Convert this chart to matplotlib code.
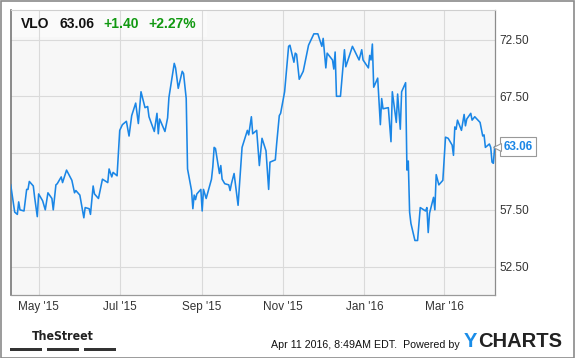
import matplotlib

matplotlib.use("Agg")
import matplotlib.pyplot as plt
import matplotlib.dates as mdates
import matplotlib.transforms as mtransforms
from matplotlib import font_manager
from matplotlib.patches import Rectangle
import pandas as pd

# VLO daily close (Apr 2015 - Apr 2016)
dates = [
    "2015-04-10", "2015-04-13", "2015-04-15", "2015-04-16", "2015-04-17", "2015-04-20",
    "2015-04-22", "2015-04-23", "2015-04-24", "2015-04-27", "2015-04-28", "2015-04-30",
    "2015-05-01", "2015-05-04", "2015-05-06", "2015-05-08", "2015-05-11", "2015-05-12",
    "2015-05-14", "2015-05-15", "2015-05-18", "2015-05-19", "2015-05-22", "2015-05-26",
    "2015-05-28", "2015-05-29", "2015-06-01", "2015-06-04", "2015-06-05", "2015-06-08",
    "2015-06-09", "2015-06-11", "2015-06-12", "2015-06-15", "2015-06-18", "2015-06-22",
    "2015-06-23", "2015-06-25", "2015-06-26", "2015-06-29", "2015-07-01", "2015-07-03",
    "2015-07-06", "2015-07-08", "2015-07-10", "2015-07-13", "2015-07-15", "2015-07-17",
    "2015-07-20", "2015-07-22", "2015-07-23", "2015-07-27", "2015-07-29", "2015-07-30",
    "2015-07-31", "2015-08-04", "2015-08-06", "2015-08-07", "2015-08-11", "2015-08-12",
    "2015-08-14", "2015-08-17", "2015-08-18", "2015-08-20", "2015-08-21", "2015-08-24",
    "2015-08-25", "2015-08-26", "2015-08-27", "2015-08-28", "2015-08-31", "2015-09-01",
    "2015-09-02", "2015-09-04", "2015-09-08", "2015-09-09", "2015-09-10", "2015-09-11",
    "2015-09-14", "2015-09-15", "2015-09-16", "2015-09-18", "2015-09-21", "2015-09-22",
    "2015-09-23", "2015-09-25", "2015-09-28", "2015-10-01", "2015-10-05", "2015-10-06",
    "2015-10-08", "2015-10-09", "2015-10-12", "2015-10-14", "2015-10-16", "2015-10-19",
    "2015-10-21", "2015-10-22", "2015-10-26", "2015-10-27", "2015-10-29", "2015-10-30",
    "2015-11-02", "2015-11-05", "2015-11-06", "2015-11-09", "2015-11-10", "2015-11-11",
    "2015-11-13", "2015-11-16", "2015-11-20", "2015-11-24", "2015-11-27", "2015-11-30",
    "2015-12-01", "2015-12-03", "2015-12-04", "2015-12-08", "2015-12-09", "2015-12-10",
    "2015-12-11", "2015-12-14", "2015-12-15", "2015-12-17", "2015-12-18", "2015-12-23",
    "2015-12-28", "2015-12-30", "2015-12-31", "2016-01-04", "2016-01-05", "2016-01-06",
    "2016-01-07", "2016-01-08", "2016-01-11", "2016-01-13", "2016-01-14", "2016-01-15",
    "2016-01-19", "2016-01-21", "2016-01-22", "2016-01-25", "2016-01-26", "2016-01-28",
    "2016-01-29", "2016-02-01", "2016-02-02", "2016-02-03", "2016-02-04", "2016-02-05",
    "2016-02-08", "2016-02-10", "2016-02-12", "2016-02-16", "2016-02-17", "2016-02-18",
    "2016-02-19", "2016-02-22", "2016-02-23", "2016-02-24", "2016-02-26", "2016-02-29",
    "2016-03-01", "2016-03-02", "2016-03-04", "2016-03-07", "2016-03-08", "2016-03-09",
    "2016-03-10", "2016-03-11", "2016-03-14", "2016-03-16", "2016-03-17", "2016-03-18",
    "2016-03-21", "2016-03-22", "2016-03-24", "2016-03-28", "2016-03-30", "2016-03-31",
    "2016-04-01", "2016-04-04", "2016-04-05", "2016-04-06", "2016-04-07", "2016-04-08",
]
prices = [
    59.7, 57.3, 57.1, 58.2, 57.5, 57.4,
    59.3, 59.3, 60.0, 59.6, 58.6, 56.9,
    58.9, 58.3, 57.5, 59.0, 58.5, 57.5,
    59.7, 59.8, 60.4, 59.9, 61.0, 60.1,
    59.0, 59.2, 58.8, 56.8, 57.7, 57.6,
    57.1, 59.6, 58.9, 58.5, 60.2, 59.9,
    61.1, 60.4, 60.8, 60.5, 64.5, 65.0,
    65.3, 64.0, 65.8, 66.9, 65.1, 67.9,
    66.5, 66.6, 65.7, 64.4, 66.0, 64.2,
    65.5, 64.4, 65.6, 67.4, 70.4, 70.0,
    68.2, 69.7, 69.5, 67.3, 61.1, 59.2,
    57.6, 58.8, 58.4, 58.9, 59.3, 57.4,
    59.3, 58.5, 60.2, 61.3, 63.0, 62.9,
    60.7, 61.4, 60.2, 59.8, 59.7, 59.2,
    59.8, 60.7, 57.9, 63.0, 64.5, 64.1,
    65.7, 64.2, 64.5, 61.4, 63.8, 62.7,
    59.3, 61.7, 61.9, 63.3, 65.8, 66.0,
    67.9, 71.9, 72.0, 70.5, 71.3, 71.2,
    69.0, 69.7, 72.0, 73.0, 73.0, 71.9,
    72.6, 70.0, 71.3, 70.7, 69.9, 71.4,
    67.5, 67.5, 68.9, 71.6, 70.1, 71.9,
    70.7, 71.6, 70.7, 70.0, 71.1, 70.7,
    72.1, 68.3, 69.1, 65.0, 67.3, 66.4,
    66.5, 63.5, 67.9, 65.2, 67.7, 64.6,
    67.9, 68.7, 61.0, 61.8, 57.3, 56.3,
    54.8, 54.8, 57.7, 57.4, 57.7, 55.5,
    57.2, 58.6, 57.5, 60.6, 59.7, 60.1,
    62.0, 63.9, 63.8, 63.2, 62.3, 64.8,
    64.6, 65.4, 64.5, 65.9, 64.9, 65.5,
    66.0, 65.4, 65.7, 65.2, 64.0, 64.1,
    63.0, 63.3, 63.0, 61.7, 61.6, 63.06,
]

ticker = "VLO"
last_price = "63.06"
change = "+1.40"
change_pct = "+2.27%"
y_ticks = [52.5, 57.5, 62.5, 67.5, 72.5]
# the 62.50 label sits under the last-price tag in the original
y_labels = ["52.50", "57.50", "", "67.50", "72.50"]
x_ticks = ["2015-05-01", "2015-07-01", "2015-09-01", "2015-11-01", "2016-01-01", "2016-03-01"]
stamp = "Apr 11 2016, 8:49AM EDT.  Powered by"

LINE = "#1a86e6"
GREEN = "#119911"
TXT = "#333333"

plt.rcParams["font.family"] = ["Liberation Sans", "DejaVu Sans"]

# a condensed bold face for the TheStreet logo text, if one is around
cond = [f for f in font_manager.fontManager.ttflist
        if f.stretch in ("condensed", "semi-condensed") and f.weight in ("bold", 700)]
logo_kw = dict(family=cond[0].name, fontstretch=cond[0].stretch, fontsize=8.8) if cond \
    else dict(family="Liberation Sans", fontsize=8)

W, H = 575, 358
fig = plt.figure(figsize=(W / 100, H / 100), dpi=100)
fig.patch.set_facecolor("white")


def fx(px):
    return px / W


def fy(py):
    return 1 - py / H


ax = fig.add_axes([fx(10.7), fy(295), fx(494.7) - fx(10.7), fy(10) - fy(295)])
ax.set_facecolor("#f7f7f7")

d = pd.to_datetime(dates)
ax.plot(d, prices, color=LINE, lw=1.15, zorder=3)

ax.set_xlim(pd.Timestamp("2015-04-10"), pd.Timestamp("2016-04-08"))
ax.set_ylim(50, 75.1)
ax.set_yticks(y_ticks)
ax.set_yticklabels(y_labels)
ax.set_xticks(pd.to_datetime(x_ticks))
ax.xaxis.set_major_formatter(mdates.DateFormatter("%b '%y"))
ax.yaxis.tick_right()
ax.tick_params(axis="both", length=0, labelsize=8.5, labelcolor=TXT)
ax.tick_params(axis="y", pad=3.5)
ax.tick_params(axis="x", pad=4)
ax.set_axisbelow(True)
ax.grid(True, color="#dadada", lw=0.8)

for side, col, lw in [("left", "#777777", 1.2), ("right", "#8c8c8c", 0.9),
                      ("bottom", "#999999", 0.9), ("top", "#cfcfcf", 0.8)]:
    ax.spines[side].set_color(col)
    ax.spines[side].set_linewidth(lw)

# header strip behind the quote
ax.add_patch(Rectangle((0, 1 - 27 / 285), (207 - 10.7) / 484, 27 / 285,
                       transform=ax.transAxes, facecolor="white", alpha=0.45,
                       edgecolor="none", zorder=0.4))

# last price tag: box plus a small notch pointing at the line end
ytrans = ax.get_yaxis_transform()
ax.annotate(last_price, xy=(1.0, prices[-1]), xycoords=ytrans,
            xytext=(16.6, 0), textcoords="offset points", va="center", ha="center",
            fontsize=8.5, fontweight="bold", color=LINE, annotation_clip=False,
            bbox=dict(boxstyle="square,pad=0.3", facecolor="white",
                      edgecolor="#999999", lw=0.8), zorder=6)
notch = mtransforms.offset_copy(ytrans, fig=fig, x=2.0, y=0, units="points")
ax.plot([1.0], [prices[-1]], marker="<", ms=5.5, mfc="white", mec="#999999",
        mew=0.8, transform=notch, clip_on=False, zorder=7)

# quote header
hy = fy(23.5)
fig.text(fx(20.5), hy, ticker, fontsize=10, fontweight="bold", color="#111111", va="center")
fig.text(fx(59), hy, last_price, fontsize=10, fontweight="bold", color="#111111", va="center")
fig.text(fx(103), hy, change, fontsize=10, fontweight="bold", color=GREEN, va="center")
fig.text(fx(148), hy, change_pct, fontsize=10, fontweight="bold", color=GREEN, va="center")

# footer
fig.text(fx(63), fy(336), "TheStreet", fontweight="bold", color="#222222",
         ha="center", va="center", **logo_kw)
for x0, x1 in [(10, 42), (47, 79), (84, 116)]:
    fig.patches.append(Rectangle((fx(x0), fy(350.5)), fx(x1) - fx(x0), 3 / H,
                                 transform=fig.transFigure, facecolor="#333333",
                                 edgecolor="none"))
fig.text(fx(459.5), fy(345), stamp, fontsize=7.7, color="#111111", ha="right", va="center")
t = fig.text(fx(464), fy(341.5), "Y", fontsize=14.5, fontweight="bold", color="#1a8de8",
             ha="left", va="center")
fig.canvas.draw()
bb = t.get_window_extent()
fig.text(bb.x1 / W + 0.5 / W, fy(341.5), "CHARTS", fontsize=14.5, fontweight="bold",
         color="#222222", ha="left", va="center")

# outer frame
fig.patches.append(Rectangle((0.5 / W, 0.5 / H), 1 - 1.5 / W, 1 - 1.5 / H,
                             transform=fig.transFigure, facecolor="none",
                             edgecolor="#8a8a8a", lw=1.2))

fig.savefig("out.png", dpi=100)
